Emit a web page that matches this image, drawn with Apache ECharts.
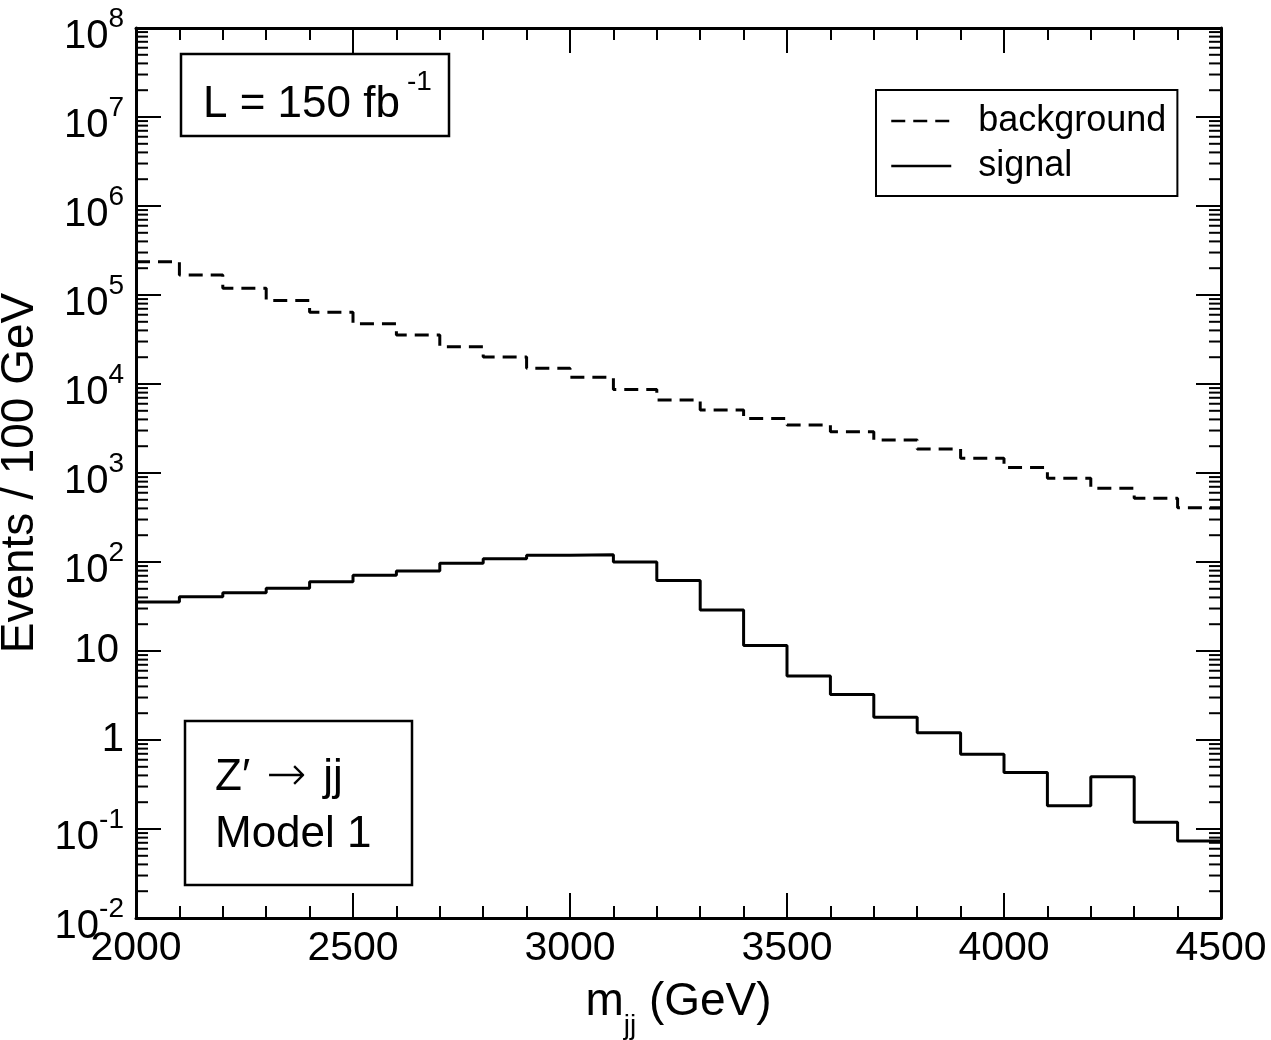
<!DOCTYPE html>
<html>
<head>
<meta charset="utf-8">
<script src="https://cdn.jsdelivr.net/npm/echarts@6/dist/echarts.min.js"></script>
<style>
  html, body { margin: 0; padding: 0; background: #fff; }
  #chart { width: 1271px; height: 1040px; }
</style>
</head>
<body>
<div id="chart"></div>
<script>
// bin edges of the histogram (GeV)
const binEdges = [2000, 2100, 2200, 2300, 2400, 2500, 2600, 2700, 2800, 2900, 3000, 3100, 3200,
  3300, 3400, 3500, 3600, 3700, 3800, 3900, 4000, 4100, 4200, 4300, 4400, 4500]

// events / 100 GeV, one value per bin
const background = [2.37e5, 1.68e5, 1.19e5, 8.7e4, 6.4e4, 4.76e4, 3.56e4, 2.62e4, 2.01e4, 1.5e4,
  1.19e4, 8.7e3, 6.6e3, 5.1e3, 4.1e3, 3.46e3, 2.91e3, 2.35e3, 1.86e3, 1.46e3,
  1.15e3, 871, 673, 520, 407]
const signal = [35.5, 40.7, 45.2, 50.6, 60, 70.8, 79.2, 96.7, 109, 119,
  121, 100, 62, 28.9, 11.5, 5.24, 3.24, 1.8, 1.21, 0.69,
  0.43, 0.183, 0.387, 0.119, 0.0733]

// y axis decades (tick labels are 10^n)
const yTickValues = [1e-2, 1e-1, 1, 10, 1e2, 1e3, 1e4, 1e5, 1e6, 1e7, 1e8]

const xMin = 2000
const xMax = 4500
const yMin = 0.01
const yMax = 1e8
const minorMantissas = [2, 3, 4, 5, 6, 7, 8, 9]

const FONT = '"Liberation Sans", Arial, Helvetica, sans-serif'

function steps(vals) {
  return binEdges.map((x, i) => [x, vals[Math.min(i, vals.length - 1)]])
}

const minorTickValues = []
yTickValues.slice(0, -1).forEach(d => minorMantissas.forEach(m => minorTickValues.push(m * d)))

const frameLine = { show: true, onZero: false, lineStyle: { color: '#000', width: 3 } }
const majorTick = { show: true, inside: true, length: 25, lineStyle: { color: '#000', width: 2 } }
const minorTick = { show: true, splitNumber: 5, length: 12, lineStyle: { color: '#000', width: 2 } }

const chart = echarts.init(document.getElementById('chart'))
chart.setOption({
  animation: false,
  backgroundColor: '#fff',
  textStyle: { fontFamily: FONT, color: '#000' },
  grid: { left: 136, right: 50, top: 28, bottom: 122, containLabel: false, outerBoundsMode: 'none' },
  xAxis: [
    {
      type: 'value', min: xMin, max: xMax, interval: 500, position: 'bottom',
      axisLine: frameLine, axisTick: majorTick, minorTick,
      splitLine: { show: false },
      axisLabel: { fontSize: 41, color: '#000', fontFamily: FONT, margin: 10, formatter: v => String(v) },
      name: '{m|m}{j|jj}{g| (GeV)}',
      nameLocation: 'middle',
      nameGap: 72,
      nameTextStyle: {
        color: '#000',
        fontFamily: FONT,
        rich: {
          m: { fontSize: 46, lineHeight: 46, padding: [0, 0, 22, 0], fontFamily: FONT },
          j: { fontSize: 28, lineHeight: 28, padding: [33, 0, 7, 0], fontFamily: FONT },
          g: { fontSize: 46, lineHeight: 46, padding: [0, 0, 22, 0], fontFamily: FONT },
        },
      },
    },
    {
      type: 'value', min: xMin, max: xMax, interval: 500, position: 'top',
      axisLine: frameLine, axisTick: majorTick, minorTick,
      splitLine: { show: false },
      axisLabel: { show: false },
    },
  ],
  yAxis: [
    {
      type: 'log', logBase: 10, min: yMin, max: yMax, splitNumber: 10, position: 'left',
      axisLine: frameLine,
      axisTick: Object.assign({ customValues: yTickValues }, majorTick),
      splitLine: { show: false },
      axisLabel: {
        customValues: yTickValues,
        margin: 12,
        color: '#000',
        fontFamily: FONT,
        formatter: v => {
          const e = Math.round(Math.log10(v))
          if (e === 0) return '{o|1}'
          if (e === 1) return '{t|10}'
          return '{b|10}{s|' + e + '}'
        },
        rich: {
          b: { fontSize: 40, lineHeight: 40, padding: [18, 0, 0, 0], fontFamily: FONT },
          s: { fontSize: 28, lineHeight: 28, padding: [6, 0, 24, 0], fontFamily: FONT },
          t: { fontSize: 40, lineHeight: 40, padding: [0, 5, 0, 0], fontFamily: FONT },
          o: { fontSize: 40, lineHeight: 40, fontFamily: FONT },
        },
      },
      name: 'Events / 100 GeV',
      nameLocation: 'middle',
      nameGap: 85,
      nameTextStyle: { fontSize: 46, color: '#000', fontFamily: FONT },
    },
    {
      type: 'log', logBase: 10, min: yMin, max: yMax, splitNumber: 10, position: 'right',
      axisLine: frameLine,
      axisTick: Object.assign({ customValues: yTickValues }, majorTick),
      splitLine: { show: false },
      axisLabel: { show: false },
    },
  ],
  legend: {
    data: ['background', 'signal'],
    orient: 'vertical',
    left: 876,
    top: 90,
    padding: [13, 11, 12, 14],
    itemGap: 9,
    itemWidth: 60,
    itemHeight: 20,
    borderColor: '#000',
    borderWidth: 2,
    selectedMode: false,
    itemStyle: { opacity: 0 },
    lineStyle: { width: 2.5 },
    textStyle: { fontSize: 36, lineHeight: 36, color: '#000', fontFamily: FONT, padding: [0, 0, 0, 22] },
  },
  graphic: [
    {
      type: 'rect', shape: { x: 181, y: 54, width: 268, height: 82 },
      style: { fill: 'rgba(0,0,0,0)', stroke: '#000', lineWidth: 2.5 },
    },
    {
      type: 'text', x: 203, y: 95,
      style: {
        text: '{b|L = 150 fb}{s|-1}',
        verticalAlign: 'middle',
        align: 'left',
        fill: '#000',
        rich: {
          b: { fontSize: 44, lineHeight: 44, padding: [20, 0, 0, 0], fontFamily: FONT },
          s: { fontSize: 28, lineHeight: 28, padding: [5, 0, 31, 7], fontFamily: FONT },
        },
      },
    },
    {
      type: 'rect', shape: { x: 185, y: 721, width: 227, height: 164 },
      style: { fill: 'rgba(0,0,0,0)', stroke: '#000', lineWidth: 2.5 },
    },
    {
      type: 'text', x: 215, y: 778,
      style: {
        text: '{z|Z\u2032}{a|\u2192}{j|jj}',
        verticalAlign: 'middle',
        align: 'left',
        fill: '#000',
        rich: {
          z: { fontSize: 44, lineHeight: 50, fontFamily: FONT },
          a: { fontSize: 48, lineHeight: 50, fontWeight: 200, padding: [0, 17, 0, 16], fontFamily: '"DejaVu Sans ExtraLight", "DejaVu Sans", sans-serif' },
          j: { fontSize: 44, lineHeight: 50, fontFamily: FONT },
        },
      },
    },
    {
      type: 'text', x: 215, y: 835,
      style: { text: 'Model 1', fontSize: 44, fontFamily: FONT, fill: '#000', verticalAlign: 'middle', align: 'left' },
    },
  ],
  series: [
    {
      name: 'background',
      type: 'line',
      step: 'end',
      symbol: 'none',
      data: steps(background),
      itemStyle: { color: '#000' },
      lineStyle: { color: '#000', width: 3, type: [14, 8] },
    },
    {
      name: 'signal',
      type: 'line',
      step: 'end',
      symbol: 'none',
      data: steps(signal),
      itemStyle: { color: '#000' },
      lineStyle: { color: '#000', width: 3 },
    },
    {
      // minor decade ticks on left and right frame
      type: 'custom',
      silent: true,
      data: minorTickValues.map(v => [xMin, v]),
      renderItem: (params, api) => {
        const v = api.value(1)
        const pL = api.coord([xMin, v])
        const pR = api.coord([xMax, v])
        const st = { stroke: '#000', lineWidth: 2 }
        return {
          type: 'group',
          children: [
            { type: 'line', shape: { x1: pL[0], y1: pL[1], x2: pL[0] + 12, y2: pL[1] }, style: st },
            { type: 'line', shape: { x1: pR[0] - 12, y1: pR[1], x2: pR[0], y2: pR[1] }, style: st },
          ],
        }
      },
    },
  ],
})
</script>
</body>
</html>
